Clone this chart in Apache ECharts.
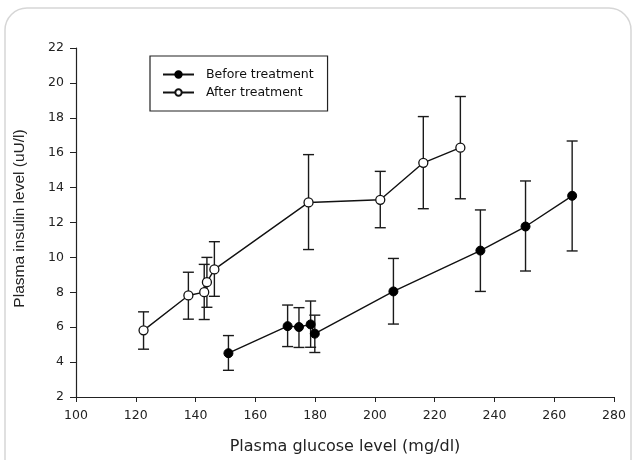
<!DOCTYPE html>
<html>
<head>
<meta charset="utf-8">
<script src="https://cdn.jsdelivr.net/npm/echarts@6/dist/echarts.min.js"></script>
<style>html,body{margin:0;padding:0;background:#fff}#c{width:643px;height:460px}</style>
</head>
<body>
<div id="c"></div>
<script>
const beforeGlucose = [151.0, 170.8, 174.6, 178.5, 179.9, 206.2, 235.3, 250.4, 266.0];
const beforeInsulin = [4.51, 6.06, 6.01, 6.16, 5.63, 8.05, 10.39, 11.77, 13.53];
const beforeUpper   = [5.52, 7.27, 7.12, 7.50, 6.69, 9.94, 12.72, 14.38, 16.67];
const beforeLower   = [3.53, 4.89, 4.84, 4.85, 4.55, 6.18, 8.05, 9.22, 10.37];

const afterGlucose = [122.6, 137.6, 142.9, 143.8, 146.3, 177.8, 201.8, 216.2, 228.6];
const afterInsulin = [5.82, 7.82, 8.01, 8.58, 9.31, 13.15, 13.30, 15.42, 16.29];
const afterUpper   = [6.88, 9.15, 9.60, 10.00, 10.90, 15.89, 14.93, 18.07, 19.22];
const afterLower   = [4.74, 6.46, 6.44, 7.14, 7.77, 10.45, 11.70, 12.79, 13.36];

const seriesNames = ['Before treatment', 'After treatment'];
const xTicks = {min: 100, max: 280, interval: 20};
const yTicks = {min: 2, max: 22, interval: 2};

function pts(xs, ys) { return xs.map((x, i) => [x, ys[i]]); }
function errs(xs, lo, hi) { return xs.map((x, i) => [x, lo[i], hi[i]]); }

function errRender(params, api) {
  const x = api.value(0);
  const lo = api.coord([x, api.value(1)]);
  const hi = api.coord([x, api.value(2)]);
  const hw = 5.5;
  const style = {stroke: '#1a1a1a', lineWidth: 1.4, fill: null};
  return {
    type: 'group',
    children: [
      {type: 'line', shape: {x1: lo[0], y1: lo[1], x2: hi[0], y2: hi[1]}, style: style},
      {type: 'line', shape: {x1: lo[0] - hw, y1: lo[1], x2: lo[0] + hw, y2: lo[1]}, style: style},
      {type: 'line', shape: {x1: hi[0] - hw, y1: hi[1], x2: hi[0] + hw, y2: hi[1]}, style: style}
    ]
  };
}

const wide = 'DejaVu Sans, Verdana, sans-serif';
const narrow = 'Liberation Sans, Arial, sans-serif';
const chart = echarts.init(document.getElementById('c'), null, {renderer: 'canvas'});
const axisText = {color: '#222', fontSize: 12.5, fontFamily: wide};
chart.setOption({
  animation: false,
  backgroundColor: '#fff',
  graphic: [{
    type: 'rect', z: -10, silent: true,
    shape: {x: 5, y: 8, width: 626, height: 500, r: 22},
    style: {fill: 'none', stroke: '#d6d6d6', lineWidth: 1.5}
  }],
  grid: {left: 76, right: 29, top: 48, bottom: 59},
  legend: {
    data: seriesNames,
    left: 150, top: 56,
    orient: 'vertical',
    itemWidth: 31, itemHeight: 8, itemGap: 5,
    padding: [12, 14, 12, 12],
    borderColor: '#222', borderWidth: 1.2,
    textStyle: {color: '#111', fontSize: 12.5, fontFamily: wide, padding: [0, 0, 0, 7]}
  },
  xAxis: {
    type: 'value', min: xTicks.min, max: xTicks.max, interval: xTicks.interval,
    name: 'Plasma glucose level (mg/dl)', nameLocation: 'middle', nameGap: 42,
    nameTextStyle: {color: '#222', fontSize: 16, fontFamily: wide},
    axisLine: {lineStyle: {color: '#222', width: 1.2}},
    axisTick: {length: 5, lineStyle: {color: '#222'}},
    axisLabel: Object.assign({margin: 12}, axisText),
    splitLine: {show: false}
  },
  yAxis: {
    type: 'value', min: yTicks.min, max: yTicks.max, interval: yTicks.interval,
    name: 'Plasma insulin level (uU/l)', nameLocation: 'middle', nameGap: 48,
    nameTextStyle: {color: '#222', fontSize: 15.5, fontFamily: narrow, padding: [0, 0, 0, 8]},
    axisLine: {show: true, lineStyle: {color: '#222', width: 1.2}},
    axisTick: {show: true, length: 6, lineStyle: {color: '#222'}},
    axisLabel: Object.assign({margin: 12}, axisText),
    splitLine: {show: false}
  },
  series: [
    {type: 'custom', name: 'errBefore', renderItem: errRender, data: errs(beforeGlucose, beforeLower, beforeUpper), z: 1, encode: {x: 0, y: [1, 2]}},
    {type: 'custom', name: 'errAfter', renderItem: errRender, data: errs(afterGlucose, afterLower, afterUpper), z: 1, encode: {x: 0, y: [1, 2]}},
    {
      type: 'line', name: seriesNames[0], data: pts(beforeGlucose, beforeInsulin), z: 3,
      symbol: 'circle', symbolSize: 9,
      lineStyle: {color: '#111', width: 1.4},
      itemStyle: {color: '#000', borderColor: '#000', borderWidth: 1}
    },
    {
      type: 'line', name: seriesNames[1], data: pts(afterGlucose, afterInsulin), z: 3,
      symbol: 'circle', symbolSize: 9,
      lineStyle: {color: '#111', width: 1.4},
      itemStyle: {color: '#fff', borderColor: '#111', borderWidth: 1.3}
    }
  ]
});
</script>
</body>
</html>
